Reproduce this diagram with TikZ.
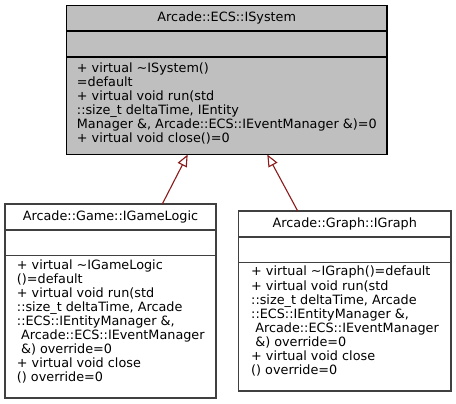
\documentclass[tikz,border=0pt]{standalone}
\usepackage{fontspec}
\setmainfont{DejaVu Sans}
\usetikzlibrary{arrows.meta,calc}
\definecolor{inhred}{HTML}{8B1A1A}
\definecolor{boxgray}{HTML}{BFBFBF}
\definecolor{edgegray}{HTML}{404040}
\tikzset{
  umlfont/.style={font=\fontsize{12.8}{14}\selectfont},
  clsbox/.style={draw=edgegray, line width=1.5pt, fill=white, anchor=north west, inner sep=0pt, outer sep=0pt},
  mainbox/.style={clsbox, draw=black, fill=boxgray},
  sepline/.style={draw=edgegray, line width=1.5pt},
  mainsep/.style={draw=black, line width=1.5pt},
  clstitle/.style={umlfont, anchor=base, inner sep=0pt},
  member/.style={umlfont, anchor=base west, inner sep=0pt},
  inh/.style={draw=inhred, line width=1.1pt, -{Triangle[open, length=12pt, width=10pt, fill=white]}}
}
\begin{document}
\begin{tikzpicture}[x=1pt, y={(0pt,-1pt)}]
\useasboundingbox (0,0) rectangle (456,404);

% ISystem
\node[mainbox, minimum width=320.5pt, minimum height=149pt] (sys) at (66.5,5.5) {};
\draw[mainsep] ($(sys.north west)+(0,25.5)$) -- ($(sys.north east)+(0,25.5)$);
\draw[mainsep] ($(sys.north west)+(0,51.5)$) -- ($(sys.north east)+(0,51.5)$);
\node[clstitle] (systitle) at (226.75,21.7) {Arcade::ECS::ISystem};
\foreach \t [count=\k from 0] in {
  {+ virtual \textasciitilde ISystem()},
  {=default},
  {+ virtual void run(std},
  {::size\_t deltaTime, IEntity},
  {Manager \&, Arcade::ECS::IEventManager \&)=0},
  {+ virtual void close()=0}}
  \node[member] (sysm\k) at (76.75,{72.2+14*\k}) {\t};

% IGameLogic
\node[clsbox, minimum width=211pt, minimum height=194pt] (gl) at (5,204) {};
\draw[sepline] ($(gl.north west)+(0,26)$) -- ($(gl.north east)+(0,26)$);
\draw[sepline] ($(gl.north west)+(0,51.5)$) -- ($(gl.north east)+(0,51.5)$);
\node[clstitle] (gltitle) at (110.5,220.7) {Arcade::Game::IGameLogic};
\foreach \t [count=\k from 0] in {
  {+ virtual \textasciitilde IGameLogic},
  {()=default},
  {+ virtual void run(std},
  {::size\_t deltaTime, Arcade},
  {::ECS::IEntityManager \&,},
  {\ Arcade::ECS::IEventManager},
  {\ \&) override=0},
  {+ virtual void close},
  {() override=0}}
  \node[member] (glm\k) at (16.75,{269.6+14*\k}) {\t};

% IGraph
\node[clsbox, minimum width=212.5pt, minimum height=180pt] (gr) at (238.5,211) {};
\draw[sepline] ($(gr.north west)+(0,26)$) -- ($(gr.north east)+(0,26)$);
\draw[sepline] ($(gr.north west)+(0,51.5)$) -- ($(gr.north east)+(0,51.5)$);
\node[clstitle] (grtitle) at (344.75,227.7) {Arcade::Graph::IGraph};
\foreach \t [count=\k from 0] in {
  {+ virtual \textasciitilde IGraph()=default},
  {+ virtual void run(std},
  {::size\_t deltaTime, Arcade},
  {::ECS::IEntityManager \&,},
  {\ Arcade::ECS::IEventManager},
  {\ \&) override=0},
  {+ virtual void close},
  {() override=0}}
  \node[member] (grm\k) at (251,{276+14*\k}) {\t};

% inheritance
\draw[inh] ($(gl.north west)+(157.3,0)$) -- ($(sys.south west)+(121.2,0)$);
\draw[inh] ($(gr.north west)+(59.2,0)$) -- ($(sys.south west)+(200.8,0)$);
\end{tikzpicture}
\end{document}
